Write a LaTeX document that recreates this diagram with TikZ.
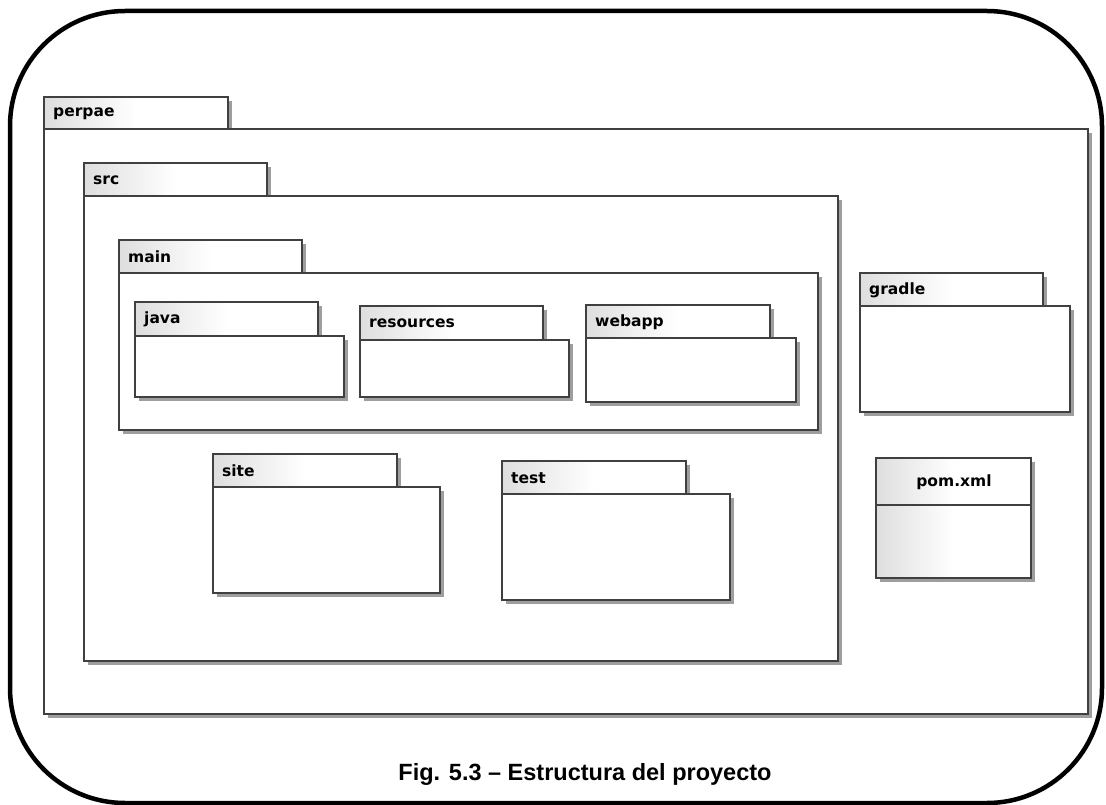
\documentclass[tikz,border=0pt]{standalone}
\usepackage{fontspec}
\setmainfont{Liberation Sans}
\newfontfamily\lblfont{DejaVu Sans}
\begin{document}
\begin{tikzpicture}[x=1pt,y=-1pt,
  pkgline/.style={draw=black!75, line width=1.1pt},
  shadowc/.style={fill=black!38},
  tabfill/.style={left color=black!13, right color=white, middle color=white},
  lbl/.style={font=\lblfont\bfseries\fontsize{15.5}{17}\selectfont, inner sep=0pt, text=black},
  frame/.style={draw=black, line width=4.5pt, rounded corners=115pt},
  caption/.style={font=\bfseries\fontsize{23.5}{26}\selectfont, inner sep=0pt}
]
\useasboundingbox (0,0) rectangle (1106,805);
\fill[white] (0,0) rectangle (1106,805);
\newcommand\pkg[8]{%
  \fill[shadowc] (#3+4,#6+4) rectangle (#7+4,#8+4);
  \fill[shadowc] (#3+4,#4+4) rectangle (#5+4,#6+4);
  \path[pkgline, fill=white] (#3,#6) rectangle (#7,#8);
  \path[pkgline, tabfill] (#3,#4) rectangle (#5,#6);
  \node[lbl, anchor=west] (#1) at (#3+9,{(#4+#6)/2+0.5}) {#2};
}
% outer frame
\draw[frame] (10,11) rectangle (1102,803);
% packages
\pkg{perpae}{perpae}{44}{97}{228}{129}{1088}{714}
\pkg{src}{src}{84}{163}{267}{196}{838}{661}
\pkg{main}{main}{119}{240}{302}{273}{818}{430}
\pkg{java}{java}{135}{302}{318}{336}{344}{397}
\pkg{resources}{resources}{360}{306}{543}{340}{569}{397}
\pkg{webapp}{webapp}{586}{305}{770}{338}{796}{402}
\pkg{gradle}{gradle}{860}{273}{1043}{306}{1070}{412}
\pkg{site}{site}{213}{454}{397}{487}{440}{593}
\pkg{test}{test}{502}{461}{686}{494}{730}{600}
% pom.xml
\fill[shadowc] (880,462) rectangle (1035,582);
\path[pkgline, tabfill] (876,458) rectangle (1031,505);
\path[pkgline, tabfill] (876,505) rectangle (1031,578);
\node[lbl] (pom) at (954,482) {pom.xml};
% caption
\node[caption] (cap) at (585,774) {Fig. 5.3 – Estructura del proyecto};
\end{tikzpicture}
\end{document}
